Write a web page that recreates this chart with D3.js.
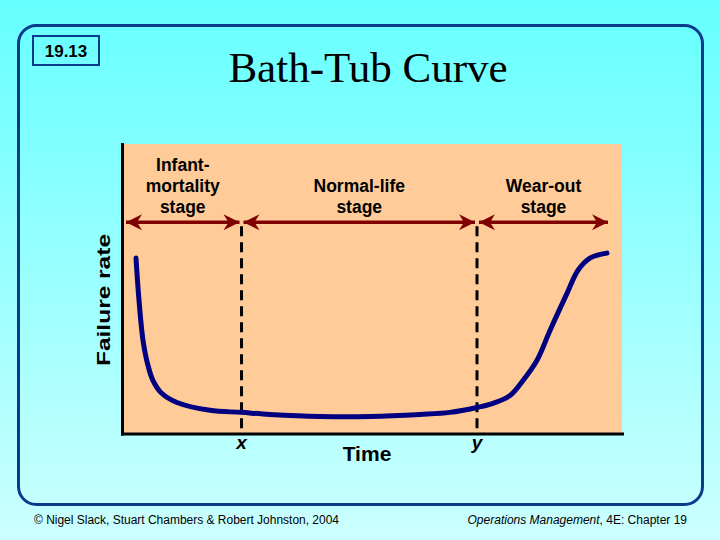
<!DOCTYPE html>
<html>
<head>
<meta charset="utf-8">
<script src="https://cdnjs.cloudflare.com/ajax/libs/d3/7.8.5/d3.min.js"></script>
<style>
  body { margin: 0; }
  svg { display: block; }
</style>
</head>
<body>
<div id="chart"></div>
<script>
/* ---------------------------------- Data ---------------------------------- */
// time on a 0-100 scale, failure rate on a 0-100 scale
const timeValues   = [2.8, 3.4, 4.2, 5.2, 6.2, 8.0, 11.0, 17.6, 23.8, 29.6, 39.6, 49.6, 59.6, 65.6, 71.0, 74.2, 77.6, 80.2, 83.0, 85.6, 89.0, 91.2, 93.6, 97.0];
const failureRates = [60.6, 46.0, 32.2, 23.5, 18.3, 13.8, 10.7, 8.0, 7.3, 6.6, 5.9, 5.9, 6.6, 7.3, 9.0, 10.4, 13.1, 18.3, 25.3, 35.6, 48.4, 56.4, 60.6, 62.3];

// stage boundaries along the time axis (x and y are the dashed lines)
const stageBounds = [0.8, 23.9, 71.0, 97.2];
const stageLabels = [['Infant-', 'mortality', 'stage'], ['Normal-life', 'stage'], ['Wear-out', 'stage']];
const boundaryLabels = ['x', 'y'];
const arrowLevel = 73;

const titleText = 'Bath-Tub Curve';
const slideNumber = '19.13';
const xLabel = 'Time';
const yLabel = 'Failure rate';

/* --------------------------------- Canvas --------------------------------- */
const width = 720, height = 540;
const svg = d3.select('#chart').append('svg')
    .attr('width', width)
    .attr('height', height);

const defs = svg.append('defs');
const grad = defs.append('linearGradient')
    .attr('id', 'bg')
    .attr('x1', 0).attr('y1', 0).attr('x2', 0).attr('y2', 1);
grad.append('stop').attr('offset', 0).attr('stop-color', '#66FFFF');
grad.append('stop').attr('offset', 1).attr('stop-color', '#CCFFFF');

// notched arrow head
defs.append('marker')
    .attr('id', 'head')
    .attr('viewBox', '-17 -9 18 18')
    .attr('refX', 0).attr('refY', 0)
    .attr('markerWidth', 18).attr('markerHeight', 18)
    .attr('markerUnits', 'userSpaceOnUse')
    .attr('orient', 'auto-start-reverse')
    .append('path')
    .attr('d', 'M0,0 L-16,-8 L-11,0 L-16,8 Z')
    .attr('fill', '#800000');

svg.append('rect')
    .attr('width', width).attr('height', height)
    .attr('fill', 'url(#bg)');

// rounded slide frame
svg.append('rect')
    .attr('x', 18.5).attr('y', 25.5)
    .attr('width', 684).attr('height', 479)
    .attr('rx', 18)
    .attr('fill', 'none')
    .attr('stroke', '#0A3A8C')
    .attr('stroke-width', 3);

// slide number box
svg.append('rect')
    .attr('x', 33).attr('y', 36)
    .attr('width', 66).attr('height', 29)
    .attr('fill', 'none')
    .attr('stroke', '#0A3A8C')
    .attr('stroke-width', 2);
svg.append('text')
    .attr('x', 66).attr('y', 57)
    .attr('text-anchor', 'middle')
    .style('font', 'bold 17px "Liberation Sans", Arial, sans-serif')
    .text(slideNumber);

svg.append('text')
    .attr('x', 368).attr('y', 82)
    .attr('text-anchor', 'middle')
    .style('font', '43px "Liberation Serif", "Times New Roman", serif')
    .text(titleText);

/* --------------------------------- Chart ---------------------------------- */
const x = d3.scaleLinear().domain([0, 100]).range([122, 622]);
const y = d3.scaleLinear().domain([0, 100]).range([433.5, 144]);

svg.append('rect')
    .attr('x', x(0)).attr('y', y(100))
    .attr('width', x(100) - x(0)).attr('height', y(0) - y(100))
    .attr('fill', '#FFCC99');

// axes without ticks, only the domain lines
const yAxis = svg.append('g')
    .attr('transform', `translate(${x(0)},0)`)
    .call(d3.axisLeft(y).tickValues([]).tickSizeOuter(0));
const xAxis = svg.append('g')
    .attr('transform', `translate(0,${y(0)})`)
    .call(d3.axisBottom(x).tickValues([]).tickSizeOuter(0));
[yAxis, xAxis].forEach(a => a.select('.domain')
    .attr('stroke', '#000')
    .attr('stroke-width', 3)
    .attr('stroke-linecap', 'square'));

// dashed stage boundaries
svg.selectAll('line.boundary')
    .data(stageBounds.slice(1, -1))
    .enter()
    .append('line')
    .attr('class', 'boundary')
    .attr('x1', d => x(d)).attr('x2', d => x(d))
    .attr('y1', y(arrowLevel) + 4).attr('y2', y(0))
    .attr('stroke', '#000')
    .attr('stroke-width', 3)
    .attr('stroke-dasharray', '10,6');

// stage arrows
const stages = stageLabels.map((lines, i) => ({
    lines,
    start: stageBounds[i] + (i > 0 ? 0.4 : 0),
    end: stageBounds[i + 1] - (i < stageLabels.length - 1 ? 0.4 : 0)
}));

svg.selectAll('line.stage')
    .data(stages)
    .enter()
    .append('line')
    .attr('class', 'stage')
    .attr('x1', d => x(d.start)).attr('x2', d => x(d.end))
    .attr('y1', y(arrowLevel)).attr('y2', y(arrowLevel))
    .attr('stroke', '#800000')
    .attr('stroke-width', 3.5)
    .attr('marker-start', 'url(#head)')
    .attr('marker-end', 'url(#head)');

const stageText = svg.selectAll('text.stage')
    .data(stages)
    .enter()
    .append('text')
    .attr('class', 'stage')
    .attr('text-anchor', 'middle')
    .style('font', 'bold 17.5px "Liberation Sans", Arial, sans-serif');
stageText.selectAll('tspan')
    .data(d => d.lines.map((t, j) => ({ t, j, n: d.lines.length, cx: x((d.start + d.end) / 2) })))
    .enter()
    .append('tspan')
    .attr('x', d => d.cx)
    .attr('y', d => 213 - (d.n - 1 - d.j) * 21)
    .text(d => d.t);

// x / y labels under the boundaries
svg.selectAll('text.bound')
    .data(stageBounds.slice(1, -1))
    .enter()
    .append('text')
    .attr('class', 'bound')
    .attr('x', d => x(d))
    .attr('y', 449)
    .attr('text-anchor', 'middle')
    .style('font', 'italic bold 19px "Liberation Sans", Arial, sans-serif')
    .text((d, i) => boundaryLabels[i]);

// the bath-tub curve
const line = d3.line()
    .x(d => x(d[0]))
    .y(d => y(d[1]))
    .curve(d3.curveCatmullRom.alpha(0.5));

svg.append('path')
    .datum(d3.zip(timeValues, failureRates))
    .attr('d', line)
    .attr('fill', 'none')
    .attr('stroke', '#000080')
    .attr('stroke-width', 5)
    .attr('stroke-linecap', 'round');

// axis titles
svg.append('text')
    .attr('x', 367).attr('y', 461)
    .attr('text-anchor', 'middle')
    .style('font', 'bold 21px "Liberation Sans", Arial, sans-serif')
    .text(xLabel);

svg.append('text')
    .attr('transform', 'translate(110,300) rotate(-90)')
    .attr('text-anchor', 'middle')
    .attr('textLength', 132)
    .attr('lengthAdjust', 'spacingAndGlyphs')
    .style('font', 'bold 19px "Liberation Sans", Arial, sans-serif')
    .text(yLabel);

/* --------------------------------- Footer --------------------------------- */
svg.append('text')
    .attr('x', 34).attr('y', 524)
    .attr('textLength', 305)
    .attr('lengthAdjust', 'spacingAndGlyphs')
    .style('font', '12px "Liberation Sans", Arial, sans-serif')
    .text('\u00A9 Nigel Slack, Stuart Chambers & Robert Johnston, 2004');

const foot = svg.append('text')
    .attr('x', 687).attr('y', 524)
    .attr('text-anchor', 'end')
    .style('font', '12px "Liberation Sans", Arial, sans-serif');
foot.append('tspan').style('font-style', 'italic').text('Operations Management');
foot.append('tspan').text(', 4E: Chapter 19');
</script>
</body>
</html>
